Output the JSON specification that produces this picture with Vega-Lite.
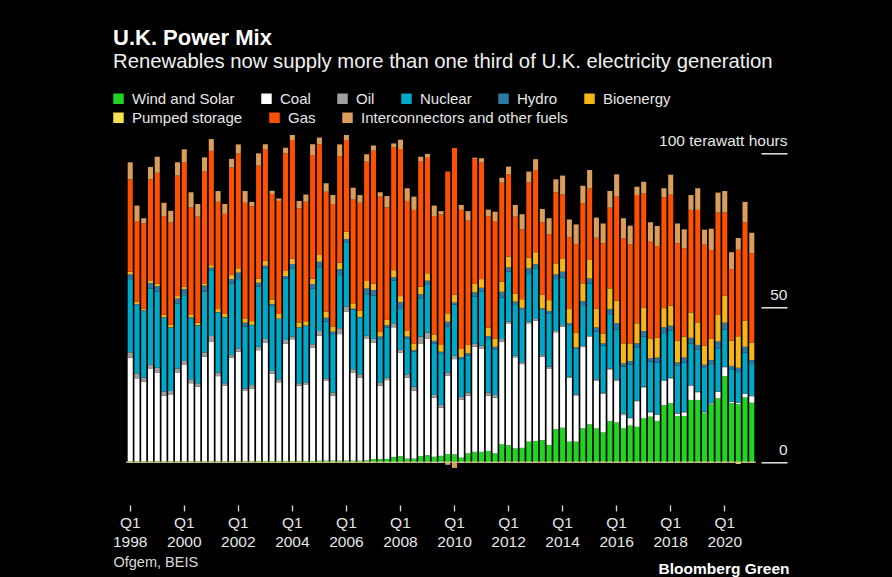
{
  "$schema": "https://vega.github.io/schema/vega-lite/v6.json",
  "width": 630,
  "height": 349.2,
  "autosize": {"type": "none"},
  "padding": {"left": 126, "top": 128.3, "right": 136, "bottom": 99.5},
  "background": "#000000",
  "title": {
    "text": "U.K. Power Mix",
    "subtitle": "Renewables now supply more than one third of U.K. electricity generation",
    "anchor": "start",
    "frame": "group",
    "dx": -13,
    "offset": 18,
    "font": "Liberation Sans",
    "fontSize": 22,
    "fontWeight": "bold",
    "color": "#ffffff",
    "subtitleFont": "Liberation Sans",
    "subtitleFontSize": 20.3,
    "subtitleColor": "#f0f0f0",
    "subtitlePadding": 2
  },
  "datasets": {
    "series": [
      {"k": "wind", "label": "Wind and Solar", "rank": 1},
      {"k": "coal", "label": "Coal", "rank": 2},
      {"k": "oil", "label": "Oil", "rank": 3},
      {"k": "nuclear", "label": "Nuclear", "rank": 4},
      {"k": "hydro", "label": "Hydro", "rank": 5},
      {"k": "bio", "label": "Bioenergy", "rank": 6},
      {"k": "pumped", "label": "Pumped storage", "rank": 7},
      {"k": "gas", "label": "Gas", "rank": 8},
      {"k": "inter", "label": "Interconnectors and other fuels", "rank": 9}
    ],
    "quarters": [
      {"q":"1998 Q1","wind":0.2,"coal":33.6,"oil":1.7,"nuclear":23.7,"hydro":1.5,"bio":0.9,"pumped":-0.3,"gas":29.9,"inter":5.5},
      {"q":"1998 Q2","wind":0.2,"coal":26.9,"oil":1.6,"nuclear":22.1,"hydro":0.3,"bio":0.8,"pumped":-0.3,"gas":26.1,"inter":5.0},
      {"q":"1998 Q3","wind":0.2,"coal":25.8,"oil":1.3,"nuclear":21.6,"hydro":0.2,"bio":0.6,"pumped":-0.3,"gas":27.5,"inter":1.7},
      {"q":"1998 Q4","wind":0.2,"coal":29.9,"oil":1.5,"nuclear":24.6,"hydro":1.7,"bio":0.9,"pumped":-0.3,"gas":32.7,"inter":4.0},
      {"q":"1999 Q1","wind":0.2,"coal":28.8,"oil":1.6,"nuclear":24.5,"hydro":1.8,"bio":0.8,"pumped":-0.3,"gas":35.9,"inter":5.2},
      {"q":"1999 Q2","wind":0.2,"coal":21.3,"oil":1.3,"nuclear":23.9,"hydro":0.1,"bio":0.8,"pumped":-0.3,"gas":32.0,"inter":4.3},
      {"q":"1999 Q3","wind":0.2,"coal":21.7,"oil":1.1,"nuclear":20.5,"hydro":0.1,"bio":0.8,"pumped":-0.3,"gas":33.1,"inter":3.8},
      {"q":"1999 Q4","wind":0.2,"coal":28.8,"oil":1.3,"nuclear":21.0,"hydro":1.6,"bio":0.8,"pumped":-0.3,"gas":39.0,"inter":4.3},
      {"q":"2000 Q1","wind":0.2,"coal":31.2,"oil":1.3,"nuclear":21.3,"hydro":2.0,"bio":0.7,"pumped":-0.3,"gas":40.2,"inter":4.3},
      {"q":"2000 Q2","wind":0.2,"coal":25.3,"oil":1.3,"nuclear":19.5,"hydro":0.5,"bio":0.8,"pumped":-0.3,"gas":34.8,"inter":4.9},
      {"q":"2000 Q3","wind":0.2,"coal":24.2,"oil":1.1,"nuclear":18.6,"hydro":0.2,"bio":0.8,"pumped":-0.3,"gas":34.3,"inter":4.1},
      {"q":"2000 Q4","wind":0.2,"coal":33.9,"oil":1.4,"nuclear":19.6,"hydro":2.0,"bio":0.7,"pumped":-0.3,"gas":36.2,"inter":4.6},
      {"q":"2001 Q1","wind":0.2,"coal":38.8,"oil":1.8,"nuclear":21.1,"hydro":1.0,"bio":0.8,"pumped":-0.3,"gas":37.0,"inter":3.8},
      {"q":"2001 Q2","wind":0.2,"coal":27.6,"oil":1.2,"nuclear":19.3,"hydro":0.2,"bio":1.0,"pumped":-0.3,"gas":34.7,"inter":3.5},
      {"q":"2001 Q3","wind":0.2,"coal":24.5,"oil":0.8,"nuclear":21.2,"hydro":0.2,"bio":1.0,"pumped":-0.3,"gas":32.4,"inter":3.2},
      {"q":"2001 Q4","wind":0.2,"coal":33.6,"oil":0.8,"nuclear":23.1,"hydro":1.5,"bio":1.3,"pumped":-0.3,"gas":34.8,"inter":2.8},
      {"q":"2002 Q1","wind":0.3,"coal":35.4,"oil":1.1,"nuclear":22.4,"hydro":2.1,"bio":1.4,"pumped":-0.3,"gas":37.1,"inter":3.0},
      {"q":"2002 Q2","wind":0.3,"coal":22.7,"oil":0.8,"nuclear":20.0,"hydro":1.3,"bio":1.4,"pumped":-0.3,"gas":37.4,"inter":3.8},
      {"q":"2002 Q3","wind":0.3,"coal":23.5,"oil":1.1,"nuclear":19.4,"hydro":0.1,"bio":1.2,"pumped":-0.3,"gas":37.2,"inter":1.4},
      {"q":"2002 Q4","wind":0.3,"coal":35.9,"oil":1.1,"nuclear":19.4,"hydro":1.3,"bio":1.4,"pumped":-0.3,"gas":36.5,"inter":4.0},
      {"q":"2003 Q1","wind":0.3,"coal":38.4,"oil":1.1,"nuclear":22.9,"hydro":0.8,"bio":1.6,"pumped":-0.3,"gas":36.2,"inter":1.5},
      {"q":"2003 Q2","wind":0.3,"coal":28.3,"oil":0.9,"nuclear":21.1,"hydro":0.5,"bio":1.5,"pumped":-0.3,"gas":34.1,"inter":1.1},
      {"q":"2003 Q3","wind":0.3,"coal":25.5,"oil":1.0,"nuclear":19.5,"hydro":0.1,"bio":1.5,"pumped":-0.3,"gas":36.6,"inter":0.8},
      {"q":"2003 Q4","wind":0.3,"coal":38.1,"oil":1.1,"nuclear":19.9,"hydro":0.8,"bio":1.6,"pumped":-0.3,"gas":38.1,"inter":1.8},
      {"q":"2004 Q1","wind":0.3,"coal":39.4,"oil":0.9,"nuclear":22.1,"hydro":1.4,"bio":1.8,"pumped":-0.3,"gas":38.3,"inter":1.6},
      {"q":"2004 Q2","wind":0.3,"coal":24.4,"oil":0.8,"nuclear":18.0,"hydro":0.1,"bio":1.6,"pumped":-0.3,"gas":36.9,"inter":2.4},
      {"q":"2004 Q3","wind":0.3,"coal":24.6,"oil":0.9,"nuclear":18.3,"hydro":0.1,"bio":1.4,"pumped":-0.3,"gas":38.6,"inter":2.4},
      {"q":"2004 Q4","wind":0.3,"coal":36.8,"oil":1.0,"nuclear":18.1,"hydro":1.4,"bio":1.8,"pumped":-0.3,"gas":40.0,"inter":3.4},
      {"q":"2005 Q1","wind":0.4,"coal":40.5,"oil":1.5,"nuclear":20.6,"hydro":1.8,"bio":2.2,"pumped":-0.3,"gas":35.8,"inter":2.2},
      {"q":"2005 Q2","wind":0.4,"coal":25.8,"oil":0.9,"nuclear":18.3,"hydro":1.3,"bio":2.0,"pumped":-0.3,"gas":38.8,"inter":2.7},
      {"q":"2005 Q3","wind":0.4,"coal":21.1,"oil":1.0,"nuclear":18.6,"hydro":1.1,"bio":1.6,"pumped":-0.3,"gas":39.7,"inter":2.9},
      {"q":"2005 Q4","wind":0.4,"coal":41.0,"oil":1.9,"nuclear":17.2,"hydro":1.9,"bio":2.1,"pumped":-0.3,"gas":34.5,"inter":3.8},
      {"q":"2006 Q1","wind":0.4,"coal":48.3,"oil":1.6,"nuclear":20.8,"hydro":1.1,"bio":2.3,"pumped":-0.3,"gas":29.7,"inter":1.6},
      {"q":"2006 Q2","wind":0.4,"coal":28.6,"oil":1.0,"nuclear":19.4,"hydro":0.2,"bio":1.8,"pumped":-0.3,"gas":33.6,"inter":3.8},
      {"q":"2006 Q3","wind":0.4,"coal":26.9,"oil":1.1,"nuclear":18.3,"hydro":0.2,"bio":2.0,"pumped":-0.3,"gas":35.0,"inter":2.5},
      {"q":"2006 Q4","wind":0.5,"coal":39.3,"oil":1.1,"nuclear":13.4,"hydro":1.9,"bio":2.4,"pumped":-0.3,"gas":38.6,"inter":2.4},
      {"q":"2007 Q1","wind":1.0,"coal":37.7,"oil":1.1,"nuclear":14.0,"hydro":1.9,"bio":2.1,"pumped":-0.3,"gas":42.9,"inter":1.7},
      {"q":"2007 Q2","wind":1.0,"coal":23.7,"oil":1.1,"nuclear":13.7,"hydro":1.1,"bio":1.6,"pumped":-0.3,"gas":43.7,"inter":1.4},
      {"q":"2007 Q3","wind":1.0,"coal":25.5,"oil":0.8,"nuclear":16.2,"hydro":0.8,"bio":1.7,"pumped":-0.3,"gas":36.4,"inter":3.7},
      {"q":"2007 Q4","wind":1.6,"coal":42.0,"oil":1.3,"nuclear":13.8,"hydro":1.1,"bio":2.3,"pumped":-0.3,"gas":39.7,"inter":1.3},
      {"q":"2008 Q1","wind":1.9,"coal":33.5,"oil":0.9,"nuclear":13.2,"hydro":2.2,"bio":2.0,"pumped":-0.3,"gas":47.6,"inter":3.0},
      {"q":"2008 Q2","wind":1.1,"coal":26.2,"oil":1.1,"nuclear":11.6,"hydro":0.6,"bio":1.8,"pumped":-0.3,"gas":42.1,"inter":4.1},
      {"q":"2008 Q3","wind":1.1,"coal":22.0,"oil":1.3,"nuclear":11.3,"hydro":0.5,"bio":2.2,"pumped":-0.3,"gas":43.2,"inter":4.3},
      {"q":"2008 Q4","wind":1.9,"coal":36.5,"oil":2.2,"nuclear":12.4,"hydro":1.3,"bio":2.4,"pumped":-0.3,"gas":40.5,"inter":1.6},
      {"q":"2009 Q1","wind":2.2,"coal":37.8,"oil":1.9,"nuclear":15.4,"hydro":1.4,"bio":2.4,"pumped":-0.3,"gas":37.4,"inter":1.2},
      {"q":"2009 Q2","wind":1.7,"coal":19.1,"oil":0.9,"nuclear":16.7,"hydro":0.8,"bio":2.1,"pumped":-0.3,"gas":38.3,"inter":3.4},
      {"q":"2009 Q3","wind":2.0,"coal":15.6,"oil":0.9,"nuclear":16.7,"hydro":0.5,"bio":2.2,"pumped":-0.3,"gas":42.2,"inter":1.1},
      {"q":"2009 Q4","wind":2.6,"coal":25.3,"oil":1.1,"nuclear":14.8,"hydro":1.6,"bio":2.7,"pumped":-0.3,"gas":45.9,"inter":-0.6},
      {"q":"2010 Q1","wind":2.5,"coal":30.8,"oil":1.1,"nuclear":16.6,"hydro":0.6,"bio":2.6,"pumped":-0.3,"gas":47.4,"inter":-1.6},
      {"q":"2010 Q2","wind":1.4,"coal":18.7,"oil":1.0,"nuclear":12.2,"hydro":0.7,"bio":2.6,"pumped":-0.3,"gas":45.0,"inter":1.6},
      {"q":"2010 Q3","wind":2.8,"coal":18.7,"oil":1.0,"nuclear":11.9,"hydro":0.8,"bio":2.7,"pumped":-0.3,"gas":40.2,"inter":3.1},
      {"q":"2010 Q4","wind":3.3,"coal":34.0,"oil":1.1,"nuclear":15.1,"hydro":1.4,"bio":2.9,"pumped":-0.3,"gas":40.3,"inter":0.4},
      {"q":"2011 Q1","wind":3.3,"coal":33.3,"oil":1.1,"nuclear":17.4,"hydro":1.3,"bio":2.8,"pumped":-0.3,"gas":37.7,"inter":1.4},
      {"q":"2011 Q2","wind":3.6,"coal":17.9,"oil":1.0,"nuclear":17.3,"hydro":1.0,"bio":2.7,"pumped":-0.3,"gas":36.1,"inter":2.1},
      {"q":"2011 Q3","wind":2.8,"coal":18.0,"oil":0.9,"nuclear":14.6,"hydro":1.0,"bio":2.7,"pumped":-0.3,"gas":38.0,"inter":3.0},
      {"q":"2011 Q4","wind":5.7,"coal":33.2,"oil":0.9,"nuclear":13.4,"hydro":1.9,"bio":3.3,"pumped":-0.3,"gas":32.0,"inter":1.6},
      {"q":"2012 Q1","wind":5.5,"coal":39.4,"oil":0.5,"nuclear":16.2,"hydro":1.4,"bio":3.5,"pumped":-0.3,"gas":26.6,"inter":2.5},
      {"q":"2012 Q2","wind":4.4,"coal":29.5,"oil":0.5,"nuclear":16.7,"hydro":0.8,"bio":2.5,"pumped":-0.3,"gas":25.0,"inter":3.8},
      {"q":"2012 Q3","wind":4.6,"coal":27.1,"oil":0.6,"nuclear":16.9,"hydro":0.7,"bio":2.8,"pumped":-0.3,"gas":22.6,"inter":4.9},
      {"q":"2012 Q4","wind":6.6,"coal":38.3,"oil":0.5,"nuclear":15.7,"hydro":1.6,"bio":3.4,"pumped":-0.3,"gas":24.4,"inter":3.5},
      {"q":"2013 Q1","wind":6.8,"coal":38.9,"oil":0.6,"nuclear":16.4,"hydro":1.3,"bio":3.9,"pumped":-0.3,"gas":26.6,"inter":3.5},
      {"q":"2013 Q2","wind":7.1,"coal":27.0,"oil":0.5,"nuclear":14.6,"hydro":0.5,"bio":4.4,"pumped":-0.3,"gas":23.5,"inter":4.3},
      {"q":"2013 Q3","wind":5.5,"coal":24.8,"oil":0.6,"nuclear":17.2,"hydro":0.8,"bio":3.5,"pumped":-0.3,"gas":21.3,"inter":5.2},
      {"q":"2013 Q4","wind":10.6,"coal":31.4,"oil":0.4,"nuclear":16.8,"hydro":1.5,"bio":3.6,"pumped":-0.3,"gas":23.0,"inter":4.2},
      {"q":"2014 Q1","wind":11.1,"coal":32.7,"oil":0.5,"nuclear":15.4,"hydro":1.9,"bio":4.1,"pumped":-0.3,"gas":20.9,"inter":6.1},
      {"q":"2014 Q2","wind":6.6,"coal":20.7,"oil":0.3,"nuclear":16.7,"hydro":0.6,"bio":4.6,"pumped":-0.3,"gas":23.2,"inter":5.8},
      {"q":"2014 Q3","wind":6.6,"coal":15.0,"oil":0.3,"nuclear":14.7,"hydro":0.5,"bio":4.8,"pumped":-0.3,"gas":28.7,"inter":6.3},
      {"q":"2014 Q4","wind":10.9,"coal":26.3,"oil":0.4,"nuclear":12.9,"hydro":1.6,"bio":5.7,"pumped":-0.3,"gas":25.9,"inter":5.7},
      {"q":"2015 Q1","wind":12.2,"coal":28.3,"oil":0.3,"nuclear":17.0,"hydro":1.6,"bio":6.0,"pumped":-0.3,"gas":23.2,"inter":5.9},
      {"q":"2015 Q2","wind":10.9,"coal":15.5,"oil":0.4,"nuclear":15.4,"hydro":1.4,"bio":6.1,"pumped":-0.3,"gas":22.9,"inter":6.5},
      {"q":"2015 Q3","wind":9.6,"coal":12.5,"oil":0.3,"nuclear":15.3,"hydro":0.7,"bio":3.2,"pumped":-0.3,"gas":29.2,"inter":6.4},
      {"q":"2015 Q4","wind":13.3,"coal":16.7,"oil":0.3,"nuclear":17.3,"hydro":1.9,"bio":6.7,"pumped":-0.3,"gas":26.1,"inter":5.4},
      {"q":"2016 Q1","wind":12.8,"coal":13.6,"oil":0.4,"nuclear":16.1,"hydro":2.0,"bio":7.3,"pumped":-0.3,"gas":33.7,"inter":7.2},
      {"q":"2016 Q2","wind":10.9,"coal":4.3,"oil":0.6,"nuclear":15.1,"hydro":1.0,"bio":6.5,"pumped":-0.3,"gas":34.0,"inter":6.5},
      {"q":"2016 Q3","wind":11.8,"coal":2.4,"oil":0.2,"nuclear":17.2,"hydro":1.1,"bio":5.7,"pumped":-0.3,"gas":32.1,"inter":6.0},
      {"q":"2016 Q4","wind":11.4,"coal":8.3,"oil":0.2,"nuclear":17.2,"hydro":1.3,"bio":6.5,"pumped":-0.3,"gas":41.5,"inter":2.7},
      {"q":"2017 Q1","wind":14.1,"coal":10.1,"oil":0.2,"nuclear":16.2,"hydro":1.8,"bio":7.6,"pumped":-0.3,"gas":36.9,"inter":3.8},
      {"q":"2017 Q2","wind":14.7,"coal":1.4,"oil":0.2,"nuclear":16.2,"hydro":1.1,"bio":6.4,"pumped":-0.3,"gas":31.3,"inter":6.3},
      {"q":"2017 Q3","wind":13.3,"coal":2.0,"oil":0.2,"nuclear":16.7,"hydro":1.6,"bio":6.4,"pumped":-0.3,"gas":29.7,"inter":6.5},
      {"q":"2017 Q4","wind":18.4,"coal":7.9,"oil":0.2,"nuclear":15.2,"hydro":1.9,"bio":6.2,"pumped":-0.3,"gas":35.9,"inter":2.9},
      {"q":"2018 Q1","wind":19.0,"coal":8.1,"oil":0.2,"nuclear":15.2,"hydro":1.6,"bio":6.5,"pumped":-0.3,"gas":35.9,"inter":6.5},
      {"q":"2018 Q2","wind":14.9,"coal":0.7,"oil":0.2,"nuclear":15.3,"hydro":1.1,"bio":7.1,"pumped":-0.3,"gas":31.5,"inter":6.4},
      {"q":"2018 Q3","wind":14.9,"coal":1.2,"oil":0.2,"nuclear":15.9,"hydro":1.6,"bio":6.8,"pumped":-0.3,"gas":28.6,"inter":6.1},
      {"q":"2018 Q4","wind":20.1,"coal":4.6,"oil":0.2,"nuclear":13.5,"hydro":1.8,"bio":8.2,"pumped":-0.3,"gas":33.2,"inter":4.8},
      {"q":"2019 Q1","wind":20.1,"coal":2.5,"oil":0.2,"nuclear":13.5,"hydro":1.6,"bio":7.3,"pumped":-0.3,"gas":36.4,"inter":7.0},
      {"q":"2019 Q2","wind":15.8,"coal":0.3,"oil":0.2,"nuclear":14.4,"hydro":0.8,"bio":6.2,"pumped":-0.3,"gas":32.7,"inter":4.8},
      {"q":"2019 Q3","wind":18.7,"coal":0.3,"oil":0.2,"nuclear":12.2,"hydro":1.6,"bio":7.0,"pumped":-0.3,"gas":28.6,"inter":6.9},
      {"q":"2019 Q4","wind":20.6,"coal":2.1,"oil":0.1,"nuclear":14.0,"hydro":2.2,"bio":8.6,"pumped":-0.3,"gas":33.1,"inter":6.5},
      {"q":"2020 Q1","wind":27.8,"coal":2.9,"oil":0.1,"nuclear":12.1,"hydro":2.2,"bio":8.7,"pumped":-0.3,"gas":27.0,"inter":6.9},
      {"q":"2020 Q2","wind":19.0,"coal":0.4,"oil":0.1,"nuclear":10.5,"hydro":1.1,"bio":8.2,"pumped":-0.3,"gas":23.1,"inter":5.5},
      {"q":"2020 Q3","wind":18.8,"coal":0.4,"oil":0.1,"nuclear":9.8,"hydro":1.4,"bio":10.2,"pumped":-0.6,"gas":28.0,"inter":3.8},
      {"q":"2020 Q4","wind":20.9,"coal":1.2,"oil":0.1,"nuclear":13.2,"hydro":1.9,"bio":8.4,"pumped":-0.3,"gas":31.9,"inter":6.6},
      {"q":"2021 Q1","wind":19.2,"coal":2.1,"oil":0.1,"nuclear":10.3,"hydro":1.3,"bio":5.7,"pumped":-0.3,"gas":28.9,"inter":6.6}
    ]
  },
  "layer": [
    {
      "data": {"name": "quarters"},
      "transform": [
        {"fold": ["wind", "coal", "oil", "nuclear", "hydro", "bio", "pumped", "gas", "inter"], "as": ["k", "twh"]},
        {"lookup": "k", "from": {"data": {"name": "series"}, "key": "k", "fields": ["label", "rank"]}}
      ],
      "mark": {"type": "bar"},
      "encoding": {
        "x": {
          "field": "q",
          "type": "nominal",
          "sort": null,
          "scale": {"paddingInner": 0.25, "paddingOuter": 0.25},
          "axis": {
            "orient": "bottom",
            "values": ["1998 Q1", "2000 Q1", "2002 Q1", "2004 Q1", "2006 Q1", "2008 Q1", "2010 Q1", "2012 Q1", "2014 Q1", "2016 Q1", "2018 Q1", "2020 Q1"],
            "labelExpr": "['Q1', substring(datum.value, 0, 4)]",
            "offset": 27.5,
            "domain": false,
            "ticks": true,
            "tickSize": 6,
            "tickColor": "#d9d9d9",
            "tickWidth": 1.3,
            "tickOpacity": 1,
            "labelAngle": 0,
            "labelFontSize": 15.5,
            "labelColor": "#e6e6e6",
            "labelPadding": 4,
            "labelBaseline": "top",
            "labelLineHeight": 19,
            "labelFont": "Liberation Sans",
            "title": "Ofgem, BEIS",
            "titleX": -13,
            "titleY": 57,
            "titleAlign": "left",
            "titleAnchor": "start",
            "titleBaseline": "middle",
            "titleFont": "Liberation Sans",
            "titleFontSize": 14.5,
            "titleFontWeight": "normal",
            "titleColor": "#d9d9d9"
          }
        },
        "y": {
          "field": "twh",
          "type": "quantitative",
          "stack": "zero",
          "scale": {"domain": [-5, 108], "nice": false, "zero": true},
          "axis": {
            "orient": "right",
            "values": [0, 50, 100],
            "offset": 5,
            "domain": false,
            "grid": false,
            "tickSize": 26,
            "tickWidth": 1.5,
            "tickColor": "#e6e6e6",
            "labelAlign": "right",
            "labelBaseline": "alphabetic",
            "labelPadding": 0,
            "labelOffset": -8,
            "labelFontSize": 15.5,
            "labelColor": "#e6e6e6",
            "labelFont": "Liberation Sans",
            "labelFlush": false,
            "labelOverlap": false,
            "labelBound": false,
            "labelLimit": 300,
            "labelExpr": "datum.value == 100 ? '100 terawatt hours' : datum.label",
            "title": "Bloomberg Green",
            "titleAngle": 0,
            "titleX": 28,
            "titleY": 439.7,
            "titleAlign": "right",
            "titleBaseline": "middle",
            "titleFont": "Liberation Sans",
            "titleFontSize": 15.5,
            "titleFontWeight": "bold",
            "titleColor": "#ffffff"
          }
        },
        "color": {
          "field": "label",
          "type": "nominal",
          "scale": {
            "domain": ["Wind and Solar", "Coal", "Oil", "Nuclear", "Hydro", "Bioenergy", "Pumped storage", "Gas", "Interconnectors and other fuels"],
            "range": ["#22d422", "#ffffff", "#a0a0a0", "#00a8c8", "#2a7aa6", "#f6b519", "#f4e250", "#fd5000", "#d99e5c"]
          },
          "legend": {
            "values": ["Wind and Solar", "Coal", "Oil", "Nuclear", "Hydro", "Bioenergy"],
            "orient": "none",
            "legendX": -15,
            "legendY": -37.3,
            "direction": "horizontal",
            "columns": 6,
            "title": null,
            "padding": 0,
            "symbolType": "square",
            "symbolSize": 110,
            "symbolStrokeWidth": 0,
            "symbolOpacity": 1,
            "labelFont": "Liberation Sans",
            "labelFontSize": 15,
            "labelColor": "#e6e6e6",
            "labelOffset": 6,
            "labelLimit": 400,
            "columnPadding": 24
          }
        },
        "order": {"field": "rank", "type": "quantitative", "sort": "ascending"}
      }
    },
    {
      "data": {"values": [{"zero": 0}]},
      "mark": {"type": "rule", "color": "#c9c291", "strokeWidth": 1.2},
      "encoding": {
        "y": {"datum": 0}
      }
    },
    {
      "data": {"values": [{"name": "Pumped storage"}, {"name": "Gas"}, {"name": "Interconnectors and other fuels"}]},
      "mark": {"type": "point", "shape": "square", "filled": true, "opacity": 0},
      "encoding": {
        "fill": {
          "field": "name",
          "type": "nominal",
          "sort": null,
          "scale": {
            "domain": ["Pumped storage", "Gas", "Interconnectors and other fuels"],
            "range": ["#f4e250", "#fd5000", "#d99e5c"]
          },
          "legend": {
            "orient": "none",
            "legendX": -15,
            "legendY": -18.3,
            "direction": "horizontal",
            "columns": 3,
            "title": null,
            "padding": 0,
            "symbolType": "square",
            "symbolSize": 110,
            "symbolStrokeWidth": 0,
            "symbolOpacity": 1,
            "labelFont": "Liberation Sans",
            "labelFontSize": 15,
            "labelColor": "#e6e6e6",
            "labelOffset": 6,
            "labelLimit": 400,
            "columnPadding": 24
          }
        }
      }
    }
  ],
  "config": {
    "font": "Liberation Sans",
    "view": {"stroke": null}
  }
}
